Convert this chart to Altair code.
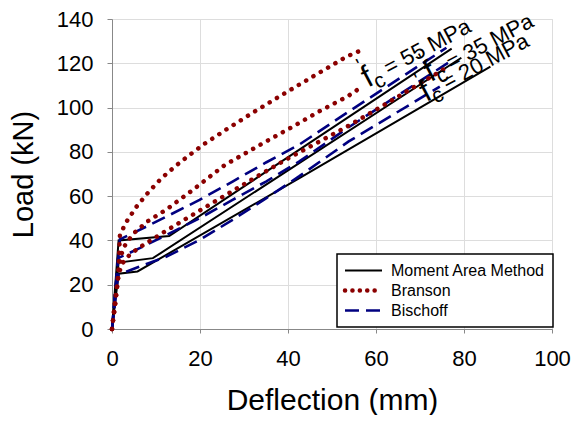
import altair as alt
import pandas as pd

# ---------------- data ----------------
# Moment Area Method (black solid)
ma55_x = [0, 1.5, 13.0, 77.2]
ma55_y = [0, 40.0, 42.0, 126.6]
ma35_x = [0, 1.5, 9.3, 79.4]
ma35_y = [0, 30.0, 32.0, 122.5]
ma20_x = [0, 1.5, 5.8, 42.5, 86.0]
ma20_y = [0, 25.0, 26.0, 68.0, 118.5]

# Branson (red dotted)
br1_x = [0, 0.7, 1.4, 1.6, 1.8, 3.3, 5.6, 8.2, 11.2, 14.5, 17.7, 21.0, 25.9, 32.4, 38.7, 47.0, 53.4, 56.8]
br1_y = [0, 13, 23, 33, 42.5, 48.5, 55.3, 61.6, 68.0, 73.7, 78.7, 83.6, 90.0, 98.2, 105.8, 115.6, 123.1, 126.0]
br2_x = [0, 0.8, 1.4, 2.0, 3.0, 4.8, 8.0, 12.4, 18.5, 25.6, 33.5, 41.8, 47.0, 53.5, 56.8]
br2_y = [0, 13, 25, 33, 38, 43, 48.5, 54, 63, 74, 83, 92.2, 98.2, 105, 109.4]
br3_x = [0, 0.8, 1.5, 2.5, 4.0, 6.0, 8.0, 12.0, 17.0, 25.0, 33.5, 40.0, 47.0, 53.5, 60.0, 68.0, 76.0]
br3_y = [0, 12, 25, 30, 33.5, 36.5, 39, 44, 50, 59.5, 69.5, 77, 84.5, 91.5, 99, 108.5, 118]

# Bischoff (blue dashed)
bi55_x = [0, 1.8, 4.8, 12.4, 19.9, 27.4, 35.0, 42.5, 53.8, 76.0]
bi55_y = [0, 40.5, 43.3, 50.8, 58.3, 66.6, 75.2, 83.2, 98.2, 127.0]
bi35_x = [0, 1.4, 6.3, 12.4, 19.9, 27.4, 35.0, 42.5, 53.8, 77.0]
bi35_y = [0, 32.0, 36.5, 42.5, 50.0, 58.3, 66.6, 75.6, 91.1, 121.0]
bi20_x = [0, 1.4, 6.0, 12.4, 19.9, 27.4, 35.0, 42.5, 53.8, 74.5]
bi20_y = [0, 24.4, 28.0, 32.7, 40.2, 49.3, 59.0, 68.9, 84.7, 109.5]

methods = ["Moment Area Method", "Branson", "Bischoff"]

# annotation anchors (data coords) and text
ann_x = [58.2, 72.4, 71.4]
ann_y = [109.0, 111.4, 102.4]
ann_txt = ["= 55 MPa", "= 35 MPa", "= 20 MPa"]

x_ticks = [0, 20, 40, 60, 80, 100]
y_ticks = [0, 20, 40, 60, 80, 100, 120, 140]

# ---------------- build table ----------------
rows = []
def add(method, curve, xs, ys):
    for i, (a, b) in enumerate(zip(xs, ys)):
        rows.append({"method": method, "curve": curve, "order": i, "x": a, "y": b})

add(methods[0], "ma55", ma55_x, ma55_y)
add(methods[0], "ma35", ma35_x, ma35_y)
add(methods[0], "ma20", ma20_x, ma20_y)
add(methods[1], "br1", br1_x, br1_y)
add(methods[1], "br2", br2_x, br2_y)
add(methods[1], "br3", br3_x, br3_y)
add(methods[2], "bi55", bi55_x, bi55_y)
add(methods[2], "bi35", bi35_x, bi35_y)
add(methods[2], "bi20", bi20_x, bi20_y)
df = pd.DataFrame(rows)

FONT = "Liberation Sans"
xscale = alt.Scale(domain=[0, 100], nice=False)
yscale = alt.Scale(domain=[0, 140], nice=False)

X = alt.X("x:Q", scale=xscale, axis=alt.Axis(
    values=x_ticks, title="Deflection (mm)", grid=True, labelFontSize=22,
    titleFontSize=30, tickSize=4, labelPadding=15, titlePadding=16,
    labelFlush=False, titleFontWeight="normal", labelColor="black", titleColor="black"))
Y = alt.Y("y:Q", scale=yscale, axis=alt.Axis(
    values=y_ticks, title="Load (kN)", grid=True, labelFontSize=22,
    titleFontSize=29, tickSize=5, labelPadding=14, titlePadding=18,
    labelFlush=False, titleFontWeight="normal", labelColor="black", titleColor="black"))

base = alt.Chart(df)

black = base.transform_filter(alt.datum.method == methods[0]).mark_line(
    color="black", strokeWidth=2).encode(
    x=X, y=Y, detail="curve:N", order="order:Q")
blue = base.transform_filter(alt.datum.method == methods[2]).mark_line(
    color="#000080", strokeWidth=2.6, strokeDash=[14, 7]).encode(
    x="x:Q", y="y:Q", detail="curve:N", order="order:Q")
red = base.transform_filter(alt.datum.method == methods[1]).mark_line(
    color="#8B0000", strokeWidth=4.5, strokeDash=[0.1, 8.4], strokeCap="round").encode(
    x="x:Q", y="y:Q", detail="curve:N", order="order:Q")

ann = pd.DataFrame({"x": ann_x, "y": ann_y, "t": ann_txt})
ANG = 332
tb = alt.Chart(ann)
t_f = tb.mark_text(font=FONT, fontSize=31, angle=ANG, align="left",
                   baseline="alphabetic", color="black").encode(
    x="x:Q", y="y:Q", text=alt.value("f"))
t_p = tb.mark_text(font=FONT, fontSize=20, angle=ANG, align="left",
                   baseline="alphabetic", color="black", dx=1, dy=-17).encode(
    x="x:Q", y="y:Q", text=alt.value("'"))
t_c = tb.mark_text(font=FONT, fontSize=21, angle=ANG, align="left",
                   baseline="alphabetic", color="black", dx=8, dy=6).encode(
    x="x:Q", y="y:Q", text=alt.value("c"))
t_r = tb.mark_text(font=FONT, fontSize=22, angle=ANG, align="left",
                   baseline="alphabetic", color="black", dx=24, dy=-1).encode(
    x="x:Q", y="y:Q", text="t:N")

# ---------------- legend (manual, inside plot) ----------------
leg = pd.DataFrame({"m": methods})
box = alt.Chart(leg).transform_filter(alt.datum.m == methods[0]).mark_rect(
    fill="white", stroke="black", strokeWidth=1.5).encode(
    x=alt.value(225), x2=alt.value(441), y=alt.value(235), y2=alt.value(308))
leg_layers = [box]
styles = [dict(color="black", strokeWidth=2),
          dict(color="#8B0000", strokeWidth=4.5, strokeDash=[0.1, 7.3], strokeCap="round"),
          dict(color="#000080", strokeWidth=2.6, strokeDash=[14, 7])]
row_y = [251.5, 271.5, 291.5]
for i, m in enumerate(methods):
    sub = alt.Chart(leg).transform_filter(alt.datum.m == m)
    leg_layers.append(sub.mark_rule(**styles[i]).encode(
        x=alt.value(233), x2=alt.value(270), y=alt.value(row_y[i])))
    leg_layers.append(sub.mark_text(font=FONT, fontSize=16, align="left",
                                    baseline="middle", color="black").encode(
        x=alt.value(279), y=alt.value(row_y[i]), text="m:N"))

chart = alt.layer(black, blue, red, t_f, t_p, t_c, t_r, *leg_layers).properties(
    width=440, height=310,
    autosize=alt.AutoSizeParams(type="none"),
    padding={"left": 104, "top": 11, "right": 24, "bottom": 86},
).configure_view(stroke="black", strokeWidth=1.5).configure_axis(
    labelFont=FONT, titleFont=FONT, domainColor="#808080", domainWidth=2,
    tickColor="black", gridColor="#a8a8a8", gridDash=[1.5, 3], gridWidth=1
).configure(background="white")

chart.save("out.html", embed_options={"renderer": "svg", "actions": False})
